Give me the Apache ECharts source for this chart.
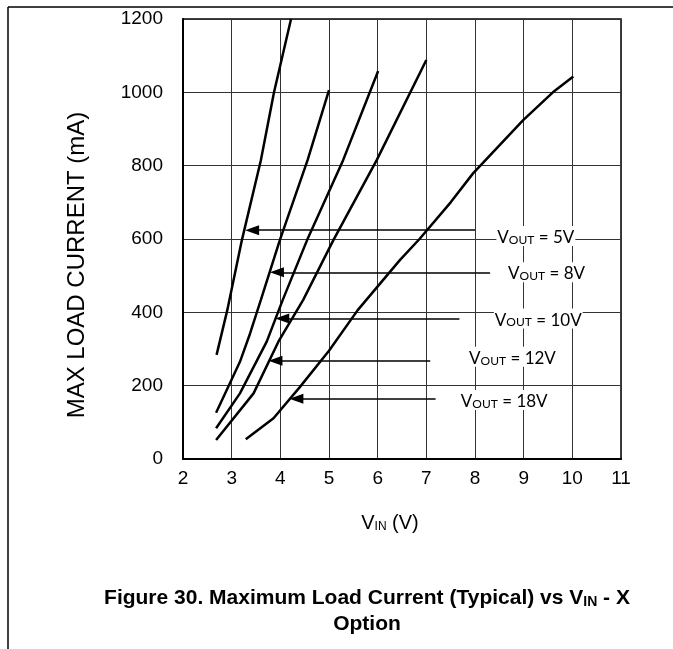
<!DOCTYPE html>
<html>
<head>
<meta charset="utf-8">
<title>Maximum Load Current vs VIN</title>
<script src="https://cdn.jsdelivr.net/npm/echarts@6/dist/echarts.min.js"></script>
<style>
    html, body { margin: 0; padding: 0; background: #fff; }
    #main { width: 673px; height: 649px; }
</style>
</head>
<body>
<div id="main"></div>
<script>
    // VIN (V) vs max load current (mA)
    var vout5  = [[2.69, 284], [2.91, 406], [3.21, 597], [3.60, 815], [3.87, 1000], [4.22, 1200]];
    var vout8  = [[2.68, 126], [3.17, 265], [3.38, 343], [3.60, 434], [3.99, 597], [4.56, 815], [5.00, 1006]];
    var vout10 = [[2.68, 84], [3.17, 179], [3.72, 320], [4.05, 434], [4.55, 597], [5.29, 815], [6.01, 1058]];
    var vout12 = [[2.68, 52], [3.45, 179], [3.96, 320], [4.47, 434], [5.09, 597], [5.98, 815], [7.00, 1088]];
    var vout18 = [[3.29, 54], [3.86, 111], [4.40, 196], [5.00, 295], [5.59, 406], [6.46, 543], [6.86, 600],
                  [7.50, 700], [7.96, 779], [8.99, 924], [9.60, 1000], [10.02, 1043]];

    var seriesNames = ['5V', '8V', '10V', '12V', '18V'];
    var seriesData = [vout5, vout8, vout10, vout12, vout18];

    // callouts: arrow tip (on the curve), arrow tail, label centre
    var arrowTip  = [[3.42, 624], [3.93, 509], [4.04, 383], [3.90, 268], [4.33, 164]];
    var arrowTail = [[8.00, 624], [8.31, 509], [7.68, 383], [7.08, 268], [7.19, 164]];
    var labelPos  = [[9.25, 608], [9.47, 509], [9.30, 383], [8.77, 279], [8.60, 161]];

    var chart = echarts.init(document.getElementById('main'));

    var labelRich = {
        v: { fontFamily: 'Lato', fontSize: 17, color: '#000', lineHeight: 20, verticalAlign: 'bottom' },
        s: { fontFamily: 'Lato', fontSize: 12, color: '#000', lineHeight: 14, verticalAlign: 'bottom' }
    };

    var series = seriesNames.map(function (name, i) {
        return {
            name: 'VOUT = ' + name,
            type: 'line',
            data: seriesData[i],
            showSymbol: false,
            lineStyle: { color: '#000', width: 2.5 },
            animation: false,
            markLine: {
                silent: true,
                animation: false,
                symbol: ['triangle', 'none'],
                symbolSize: [10, 14],
                lineStyle: { color: '#000', width: 1.5, type: 'solid' },
                label: { show: false },
                data: [[{ coord: arrowTip[i] }, { coord: arrowTail[i] }]]
            },
            markPoint: {
                silent: true,
                animation: false,
                symbol: 'rect',
                symbolSize: 1,
                itemStyle: { color: 'rgba(0,0,0,0)' },
                label: {
                    show: true,
                    position: 'inside',
                    backgroundColor: '#fff',
                    padding: [0, 1],
                    formatter: '{v|V}{s|OUT}{v| = ' + name + '}',
                    rich: labelRich
                },
                data: [{ coord: labelPos[i] }]
            }
        };
    });

    var option = {
        animation: false,
        textStyle: { fontFamily: 'Liberation Sans' },
        title: {
            left: 362,
            top: 578,
            textAlign: 'center',
            text: '{b|Figure 30. Maximum Load Current (Typical) vs V}{bs|IN}{b| - X}\n{b|Option}',
            textStyle: {
                rich: {
                    b: { fontFamily: 'Liberation Sans', fontWeight: 'bold', fontSize: 21, color: '#000', lineHeight: 26, verticalAlign: 'bottom' },
                    bs: { fontFamily: 'Liberation Sans', fontWeight: 'bold', fontSize: 14, color: '#000', lineHeight: 16, verticalAlign: 'bottom' }
                }
            }
        },
        grid: {
            left: 183,
            right: 52,
            top: 19,
            bottom: 190,
            show: true,
            borderColor: '#000',
            borderWidth: 1.5
        },
        xAxis: {
            type: 'value',
            min: 2,
            max: 11,
            interval: 1,
            name: '{v|V}{s|IN}{v| (V)}',
            nameLocation: 'middle',
            nameGap: 50,
            nameTextStyle: {
                padding: [0, 24, 0, 0],
                rich: {
                    v: { fontFamily: 'Liberation Sans', fontSize: 20, color: '#000', lineHeight: 24, verticalAlign: 'bottom' },
                    s: { fontFamily: 'Liberation Sans', fontSize: 12, color: '#000', lineHeight: 18, verticalAlign: 'bottom' }
                }
            },
            axisLine: { lineStyle: { color: '#000', width: 2 } },
            axisTick: { show: false },
            axisLabel: { color: '#000', fontSize: 19, margin: 10 },
            splitLine: { lineStyle: { color: '#333', width: 1 } }
        },
        yAxis: {
            type: 'value',
            min: 0,
            max: 1200,
            interval: 200,
            name: 'MAX LOAD CURRENT (mA)',
            nameLocation: 'middle',
            nameGap: 94,
            nameTextStyle: { color: '#000', fontSize: 24, padding: [0, 52, 0, 0] },
            axisLine: { show: true, lineStyle: { color: '#000', width: 2 } },
            axisTick: { show: false },
            axisLabel: {
                color: '#000',
                fontSize: 19,
                margin: 20,
                formatter: function (v) { return String(v); }
            },
            splitLine: { lineStyle: { color: '#333', width: 1 } }
        },
        graphic: [
            { type: 'line', shape: { x1: 8, y1: 7, x2: 673, y2: 7 }, style: { stroke: '#000', lineWidth: 1.5 } },
            { type: 'line', shape: { x1: 8, y1: 7, x2: 8, y2: 649 }, style: { stroke: '#000', lineWidth: 1.5 } }
        ],
        series: series
    };
    chart.setOption(option);
</script>
</body>
</html>
